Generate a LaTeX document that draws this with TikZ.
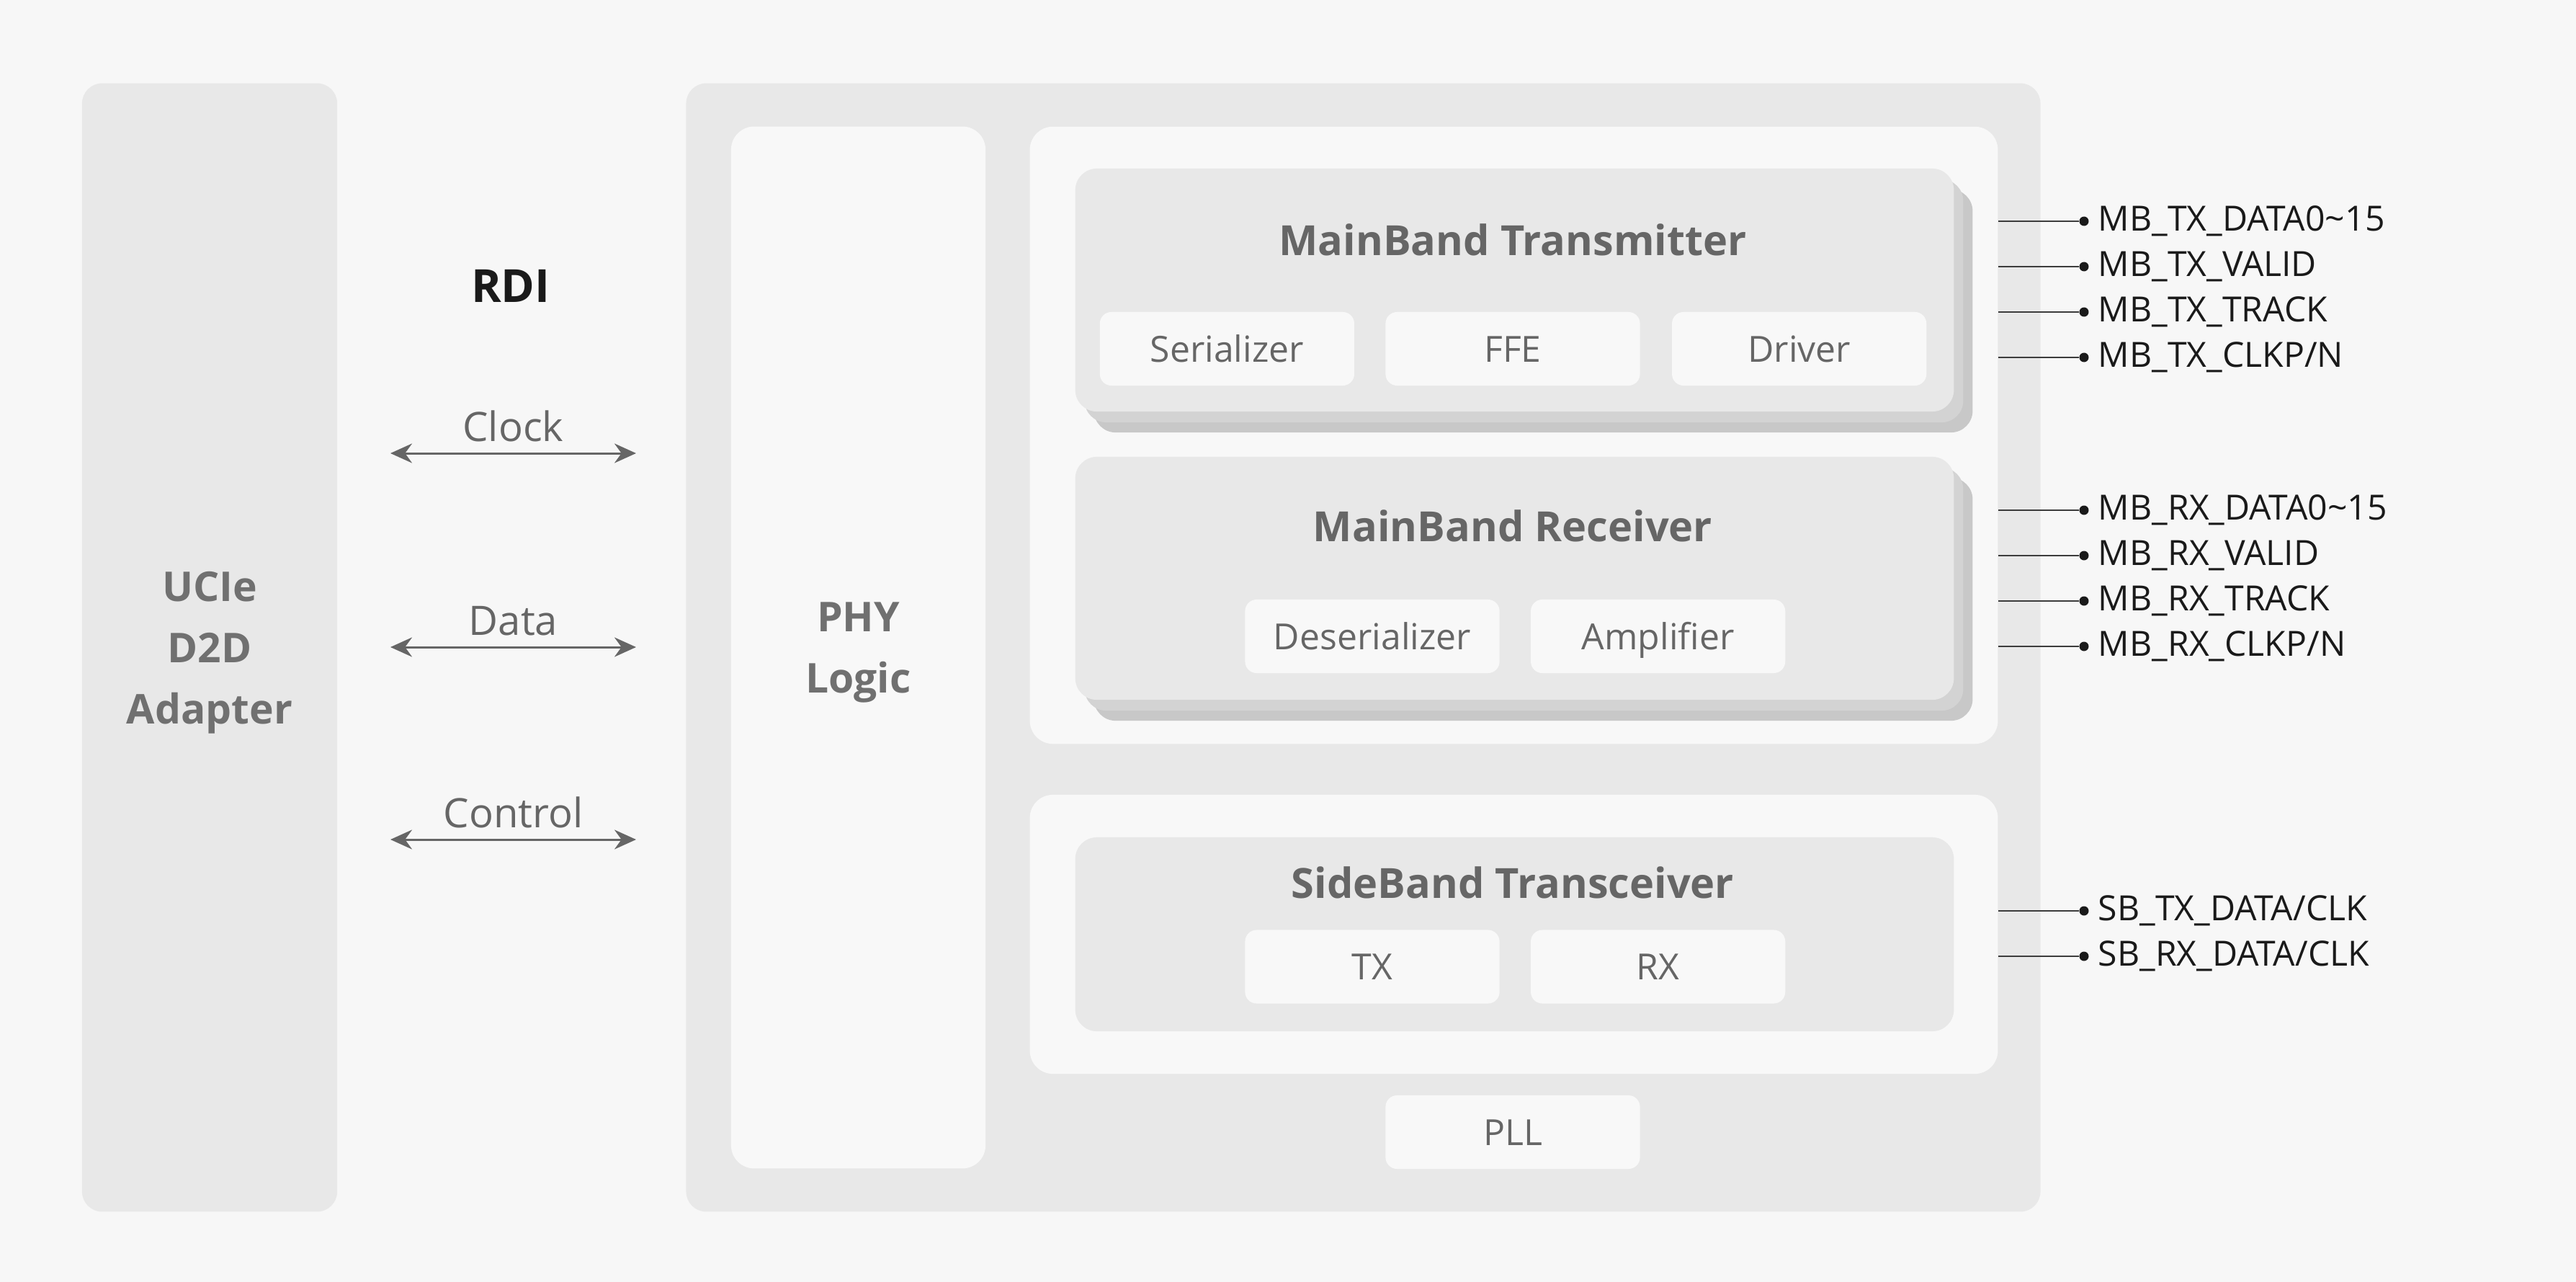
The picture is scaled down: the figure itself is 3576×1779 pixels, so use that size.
\documentclass[tikz,border=0pt]{standalone}
\usepackage{fontspec}
\setmainfont{Open Sans}
\usetikzlibrary{positioning,arrows.meta,shadows}

\definecolor{bgc}{HTML}{F7F7F7}
\definecolor{panelc}{HTML}{E8E8E8}
\definecolor{cardc}{HTML}{F8F8F8}
\definecolor{shadea}{HTML}{D3D3D3}
\definecolor{shadeb}{HTML}{C8C8C8}
\definecolor{inkc}{HTML}{666666}
\definecolor{headc}{HTML}{707070}
\definecolor{darkc}{HTML}{1A1A1A}

\begin{document}
\begin{tikzpicture}[x=0.01cm,y=-0.01cm,label distance=0.12cm,
    panel/.style={fill=panelc,rounded corners=0.28cm,inner sep=0pt},
    card/.style={fill=cardc,rounded corners=0.32cm,inner sep=0pt},
    stack/.style={panel,rounded corners=0.3cm,
      general shadow={fill=shadeb,shadow xshift=0.26cm,shadow yshift=-0.29cm},
      general shadow={fill=shadea,shadow xshift=0.13cm,shadow yshift=-0.15cm}},
    part/.style={fill=cardc,rounded corners=0.16cm,inner sep=0pt,
      minimum width=3.53cm,minimum height=1.02cm,text height=0.36cm,text depth=0pt,
      text=inkc,font=\fontsize{14.2}{17}\selectfont},
    head/.style={text=inkc,font=\bfseries\fontsize{16.4}{19}\selectfont},
    block/.style={text=headc,align=center,text depth=0pt,font=\bfseries\fontsize{16.2}{24.2}\selectfont},
    bus/.style={{Stealth[length=0.3cm,width=0.27cm]}-{Stealth[length=0.3cm,width=0.27cm]},
      draw=inkc,line width=0.03cm},
    tag/.style={above=0.14cm,inner sep=0pt,text=inkc,font=\fontsize{16}{19}\selectfont},
    dot/.style={circle,fill=darkc,inner sep=0pt,minimum size=0.13cm},
    sigtext/.style={inner sep=0pt,text=darkc,font=\fontsize{13.7}{16}\selectfont},
    wire/.style={draw=darkc!85,line width=0.02cm}]

  % background and page frame
  \fill[bgc] (0,0) rectangle (3576,1779);

  % adapter side
  \node[panel,block,minimum width=3.54cm,minimum height=15.65cm] (d2d) at (291,898.5) {UCIe\\D2D\\Adapter};
  \node[text=darkc,font=\bfseries\fontsize{18}{22}\selectfont] (rdi) at (709,397) {RDI};

  % phy side
  \node[panel,minimum width=18.79cm,minimum height=15.65cm] (phy) at (1892.5,898.5) {};
  \node[card,block,minimum width=3.53cm,minimum height=14.45cm] (logic) at (1191.5,898.5) {PHY\\Logic};
  \node[card,minimum width=13.43cm,minimum height=8.56cm] (mbwrap) at (2101.5,604) {};
  \node[card,minimum width=13.43cm,minimum height=3.87cm] (sbwrap) at (2101.5,1296.5) {};

  % mainband transmitter
  \node[stack,minimum width=12.19cm,minimum height=3.37cm] (mbtx) at (2102.5,402.5) {};
  \node[head] (txname) at (2100,333) {MainBand Transmitter};
  \node[part] (ffe) at (2100,484) {FFE};
  \node[part,left=0.42cm of ffe] (ser) {Serializer};
  \node[part,right=0.43cm of ffe] (drv) {Driver};

  % mainband receiver
  \node[stack,minimum width=12.19cm,minimum height=3.37cm] (mbrx) at (2102.5,802.5) {};
  \node[head] (rxname) at (2100,730) {MainBand Receiver};
  \node[part] (deser) at (1905,883) {Deserializer};
  \node[part,right=0.42cm of deser] (amp) {Amplifier};

  % sideband
  \node[panel,rounded corners=0.3cm,minimum width=12.19cm,minimum height=2.69cm] (sbtrx) at (2102.5,1296.5) {};
  \node[head] (sbname) at (2100,1225) {SideBand Transceiver};
  \node[part] (tx) at (1905,1341.5) {TX};
  \node[part,right=0.42cm of tx] (rx) {RX};

  \node[part] (pll) at (2100,1571) {PLL};

  % RDI buses
  \coordinate (clkA) at (542,629);
  \coordinate (clkB) at (883,629);
  \coordinate (datA) at (542,898);
  \coordinate (datB) at (883,898);
  \coordinate (ctlA) at (542,1165);
  \coordinate (ctlB) at (883,1165);
  \draw[bus] (clkA) -- node[tag] {Clock} (clkB);
  \draw[bus] (datA) -- node[tag] {Data} (datB);
  \draw[bus] (ctlA) -- node[tag] {Control} (ctlB);

  % pins
  \node[dot,label={[sigtext]right:MB\_TX\_DATA0\textasciitilde15}] (txdata) at (2893,307) {};
  \node[dot,label={[sigtext]right:MB\_TX\_VALID}] (txvalid) at (2893,370) {};
  \node[dot,label={[sigtext]right:MB\_TX\_TRACK}] (txtrack) at (2893,433) {};
  \node[dot,label={[sigtext]right:MB\_TX\_CLKP/N}] (txclk) at (2893,496) {};
  \node[dot,label={[sigtext]right:MB\_RX\_DATA0\textasciitilde15}] (rxdata) at (2893,708) {};
  \node[dot,label={[sigtext]right:MB\_RX\_VALID}] (rxvalid) at (2893,771) {};
  \node[dot,label={[sigtext]right:MB\_RX\_TRACK}] (rxtrack) at (2893,834) {};
  \node[dot,label={[sigtext]right:MB\_RX\_CLKP/N}] (rxclk) at (2893,897) {};
  \node[dot,label={[sigtext]right:SB\_TX\_DATA/CLK}] (sbtx) at (2893,1264) {};
  \node[dot,label={[sigtext]right:SB\_RX\_DATA/CLK}] (sbrx) at (2893,1327) {};
  \draw[wire] (mbwrap.east |- txdata) -- (txdata);
  \draw[wire] (mbwrap.east |- txvalid) -- (txvalid);
  \draw[wire] (mbwrap.east |- txtrack) -- (txtrack);
  \draw[wire] (mbwrap.east |- txclk) -- (txclk);
  \draw[wire] (mbwrap.east |- rxdata) -- (rxdata);
  \draw[wire] (mbwrap.east |- rxvalid) -- (rxvalid);
  \draw[wire] (mbwrap.east |- rxtrack) -- (rxtrack);
  \draw[wire] (mbwrap.east |- rxclk) -- (rxclk);
  \draw[wire] (sbwrap.east |- sbtx) -- (sbtx);
  \draw[wire] (sbwrap.east |- sbrx) -- (sbrx);
\end{tikzpicture}
\end{document}
